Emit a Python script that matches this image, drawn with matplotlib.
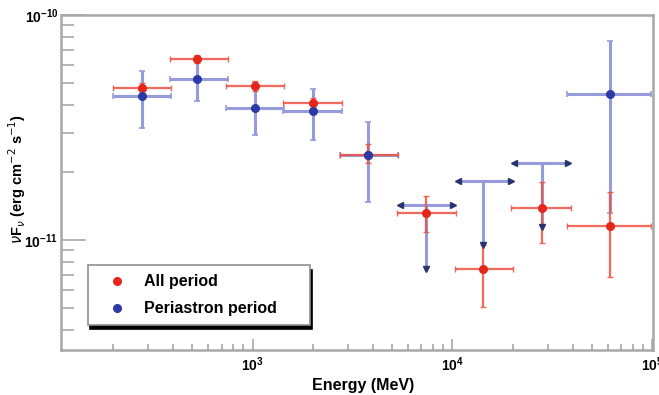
import numpy as np
import matplotlib.pyplot as plt
from matplotlib.ticker import LogLocator, NullFormatter

# energy bins (MeV), shared by both data sets
e_c  = [280, 530, 1030, 2000, 3800, 7400, 14300, 28000, 61500]
e_lo = [200, 385, 740, 1420, 2750, 5300, 10300, 19700, 37600]
e_hi = [390, 750, 1440, 2800, 5350, 10400, 20200, 39000, 99000]

# all period: flux and error bounds (erg cm-2 s-1)
all_f  = [4.72e-11, 6.37e-11, 4.85e-11, 4.07e-11, 2.40e-11, 1.315e-11, 7.41e-12, 1.39e-11, 1.15e-11]
all_lo = [4.50e-11, 6.10e-11, 4.60e-11, 3.85e-11, 2.20e-11, 1.09e-11, 5.06e-12, 9.73e-12, 6.87e-12]
all_hi = [4.97e-11, 6.65e-11, 5.10e-11, 4.30e-11, 2.67e-11, 1.57e-11, 9.50e-12, 1.81e-11, 1.63e-11]

# periastron period: detections
peri_idx = [0, 1, 2, 3, 4, 8]
peri_f   = [4.37e-11, 5.18e-11, 3.85e-11, 3.74e-11, 2.40e-11, 4.46e-11]
peri_lo  = [3.16e-11, 4.15e-11, 2.93e-11, 2.78e-11, 1.476e-11, 1.315e-11]
peri_hi  = [5.64e-11, 6.47e-11, 5.06e-11, 4.69e-11, 3.36e-11, 7.69e-11]

# periastron period: upper limits
ul_idx = [5, 6, 7]
ul_f   = [1.43e-11, 1.83e-11, 2.20e-11]
ul_end = [7.43e-12, 9.5e-12, 1.14e-11]

col_red = '#e5261a'
col_red_err = '#f0503f'
col_blue = '#2b3aa6'
col_blue_err = '#959bdb'
col_arrow = '#28346e'
col_frame = '#a8a8a8'

plt.rcParams['font.family'] = ['Liberation Sans', 'DejaVu Sans']

fig = plt.figure(figsize=(6.59, 3.95), dpi=100)
ax = fig.add_axes([0.0926, 0.114, 0.8985, 0.848])

ec = np.array(e_c)
xerr = [ec - np.array(e_lo), np.array(e_hi) - ec]

# periastron detections
pc = ec[peri_idx]
pf = np.array(peri_f)
ax.errorbar(pc, pf,
            xerr=[pc - np.array(e_lo)[peri_idx], np.array(e_hi)[peri_idx] - pc],
            yerr=[pf - np.array(peri_lo), np.array(peri_hi) - pf],
            fmt='none', ecolor=col_blue_err, elinewidth=2.2, capsize=2, capthick=1.2, zorder=2)

# periastron upper limits
for i, f, f_end in zip(ul_idx, ul_f, ul_end):
    ax.plot([e_lo[i] * 1.03, e_hi[i] * 0.97], [f, f], color=col_blue_err, lw=2.2, zorder=2)
    ax.plot([e_c[i], e_c[i]], [f, f_end], color=col_blue_err, lw=2.2, zorder=2)
ax.plot([e_lo[i] * 1.03 for i in ul_idx], ul_f, '<', color=col_arrow, ms=4.5, zorder=5)
ax.plot([e_hi[i] * 0.97 for i in ul_idx], ul_f, '>', color=col_arrow, ms=4.5, zorder=5)
ax.plot([e_c[i] for i in ul_idx], ul_end, 'v', color=col_arrow, ms=4.5, zorder=5)

# all period
af = np.array(all_f)
ax.errorbar(ec, af, xerr=xerr,
            yerr=[af - np.array(all_lo), np.array(all_hi) - af],
            fmt='none', ecolor=col_red_err, elinewidth=1.6, capsize=2, capthick=1.0,
            alpha=0.85, zorder=3)

ax.plot(ec, af, 'o', color=col_red, ms=5.5, zorder=4, label='All period')
ax.plot(pc, pf, 'o', color=col_blue, ms=5.5, zorder=6, label='Periastron period')

ax.set_xscale('log')
ax.set_yscale('log')
ax.set_xlim(110, 1.01e5)
ax.set_ylim(3.25e-12, 1e-10)

for s in ax.spines.values():
    s.set_color(col_frame)
    s.set_linewidth(1.8)

ax.xaxis.set_major_locator(LogLocator(base=10, numticks=10))
ax.xaxis.set_minor_locator(LogLocator(base=10, subs=np.arange(2, 10), numticks=10))
ax.yaxis.set_major_locator(LogLocator(base=10, numticks=10))
ax.yaxis.set_minor_locator(LogLocator(base=10, subs=np.arange(2, 10), numticks=10))
ax.xaxis.set_minor_formatter(NullFormatter())
ax.yaxis.set_minor_formatter(NullFormatter())

ax.tick_params(axis='both', which='both', direction='in', color=col_frame, width=1.2,
               labelsize=10)
ax.tick_params(axis='x', which='major', length=8, pad=4)
ax.tick_params(axis='x', which='minor', length=4)
ax.tick_params(axis='y', which='major', length=18, pad=2)
ax.tick_params(axis='y', which='minor', length=9)
ax.tick_params(top=False, right=False, which='both')
for lab in ax.get_xticklabels() + ax.get_yticklabels():
    lab.set_fontweight('bold')

ax.set_xlabel('Energy (MeV)', fontsize=11.5, fontweight='bold')
ax.xaxis.set_label_coords(0.51, -0.085)
ax.set_ylabel(r'$\nu$F$_\nu$ (erg cm$^{-2}$ s$^{-1}$)', fontsize=10.5, fontweight='bold')
ax.yaxis.set_label_coords(-0.056, 0.51)

leg = ax.legend(loc='lower left', bbox_to_anchor=(0.0456, 0.0746, 0.375, 0.18),
                mode='expand', frameon=True, fancybox=False,
                shadow={'color': 'black', 'alpha': 1.0, 'ox': 1.5, 'oy': -3},
                edgecolor='#909090', borderpad=0.55, labelspacing=0.75,
                handletextpad=0.45, handlelength=2.5, borderaxespad=0,
                prop={'weight': 'bold', 'size': 11.5})
leg.get_frame().set_linewidth(1.2)
leg.set_zorder(10)

fig.savefig('out.png', dpi=100)
